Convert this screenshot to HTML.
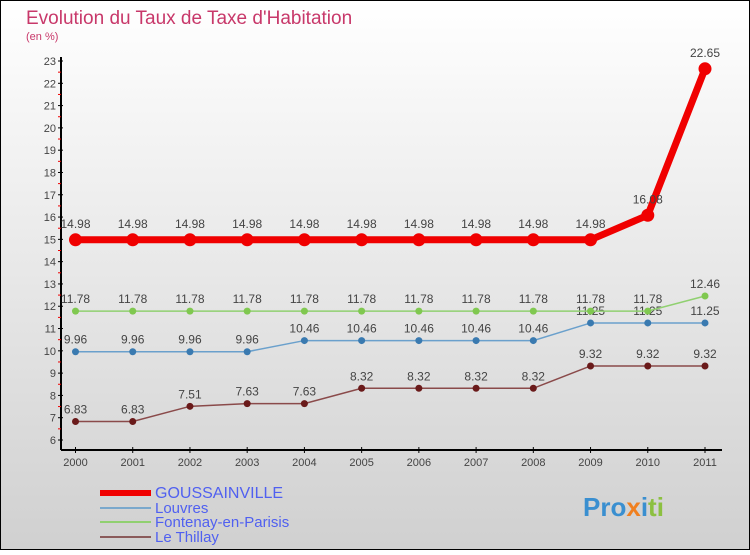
<!DOCTYPE html>
<html><head><meta charset="utf-8"><style>
html,body{margin:0;padding:0}
body{width:750px;height:550px;overflow:hidden;font-family:"Liberation Sans",sans-serif}
</style></head><body>
<svg id="c" width="750" height="550" xmlns="http://www.w3.org/2000/svg">
<defs><linearGradient id="bg" x1="0" y1="0" x2="0" y2="1"><stop offset="0" stop-color="#ffffff"/><stop offset="1" stop-color="#d0d0d0"/></linearGradient></defs>
<rect x="0.5" y="0.5" width="749" height="549" fill="url(#bg)" stroke="#000"/>
<text x="26" y="24" font-size="19" fill="#c8386a">Evolution du Taux de Taxe d'Habitation</text>
<text x="26" y="40" font-size="11" fill="#c8386a">(en %)</text>
<g id="axes"></g><g id="series"></g><g id="legend"></g>
<text x="583" y="516" font-size="26" font-weight="bold" fill="#3a8fd0">Pro<tspan fill="#f08020">x</tspan><tspan fill="#3a8fd0">i</tspan><tspan fill="#8cc040">ti</tspan></text>
</svg>
<script>
const years=[2000,2001,2002,2003,2004,2005,2006,2007,2008,2009,2010,2011];
const goussainville=[14.98,14.98,14.98,14.98,14.98,14.98,14.98,14.98,14.98,14.98,16.08,22.65];
const louvres=[9.96,9.96,9.96,9.96,10.46,10.46,10.46,10.46,10.46,11.25,11.25,11.25];
const fontenay=[11.78,11.78,11.78,11.78,11.78,11.78,11.78,11.78,11.78,11.78,11.78,12.46];
const thillay=[6.83,6.83,7.51,7.63,7.63,8.32,8.32,8.32,8.32,9.32,9.32,9.32];
const yTicks=[6,7,8,9,10,11,12,13,14,15,16,17,18,19,20,21,22,23];
const NS="http://www.w3.org/2000/svg";
const X=i=>75.5+i*(705-75.5)/11;
const Y=v=>440-(v-6)*(440-61)/17;
function mk(p,t,a){const e=document.createElementNS(NS,t);for(const k in a)e.setAttribute(k,a[k]);p.appendChild(e);return e;}
const ax=document.getElementById('axes');
let l=mk(ax,'line',{x1:61,y1:57,x2:61,y2:450,stroke:'#000','stroke-width':2});


l=mk(ax,'line',{x1:61,y1:450,x2:722,y2:450,stroke:'#000','stroke-width':2});


yTicks.forEach(v=>{
 mk(ax,'line',{x1:58,y1:Y(v),x2:63,y2:Y(v),stroke:'#000'});
 if(v<23)mk(ax,'line',{x1:58,y1:Y(v+0.5),x2:61,y2:Y(v+0.5),stroke:'#e00'});
 const t=mk(ax,'text',{x:56,y:Y(v)+4,'font-size':11,fill:'#444','text-anchor':'end'});
 t.textContent=v;
 
 
});
years.forEach((yr,i)=>{
 mk(ax,'line',{x1:X(i),y1:447,x2:X(i),y2:453,stroke:'#000'});
 const t=mk(ax,'text',{x:X(i),y:466,'font-size':11,fill:'#444','text-anchor':'middle'});
 t.textContent=yr;
 
 
});
const sg=document.getElementById('series');
function series(data,color,w,r,dot,name,labelOff){
 const g=mk(sg,'g',{});
 
 
 mk(g,'polyline',{points:data.map((v,i)=>X(i)+','+Y(v)).join(' '),fill:'none',stroke:color,'stroke-width':w});
 data.forEach((v,i)=>{
  const c=mk(g,'circle',{cx:X(i),cy:Y(v),r:r,fill:dot});
  
  
  const t=mk(g,'text',{x:X(i),y:Y(v)-labelOff,'font-size':12,fill:'#444','text-anchor':'middle'});
  t.textContent=v;
  
  
 });
}
series(thillay,'#8a4a4a',1.5,3.5,'#6a1a1a','le-thillay',8);
series(louvres,'#6aa0cc',1.5,3.5,'#3a7ab0','louvres',8);
series(fontenay,'#90d070',1.5,3.5,'#80c850','fontenay',8);
series(goussainville,'#f00000',7,6.5,'#f00000','goussainville',12);
const lg=document.getElementById('legend');
[['GOUSSAINVILLE','#f00000',6,16],['Louvres','#7aa8cc',2,15],['Fontenay-en-Parisis','#90d070',2,15],['Le Thillay','#8a5a5a',2,15]].forEach((d,i)=>{
 const y=[493,508,522,537][i];
 const g=mk(lg,'g',{});
 
 
 mk(g,'line',{x1:100,y1:y,x2:151,y2:y,stroke:d[1],'stroke-width':d[2]});
 const t=mk(g,'text',{x:155,y:y+5,'font-size':d[3],fill:'#5060f0'});
 t.textContent=d[0];
});
</script>
</body></html>
